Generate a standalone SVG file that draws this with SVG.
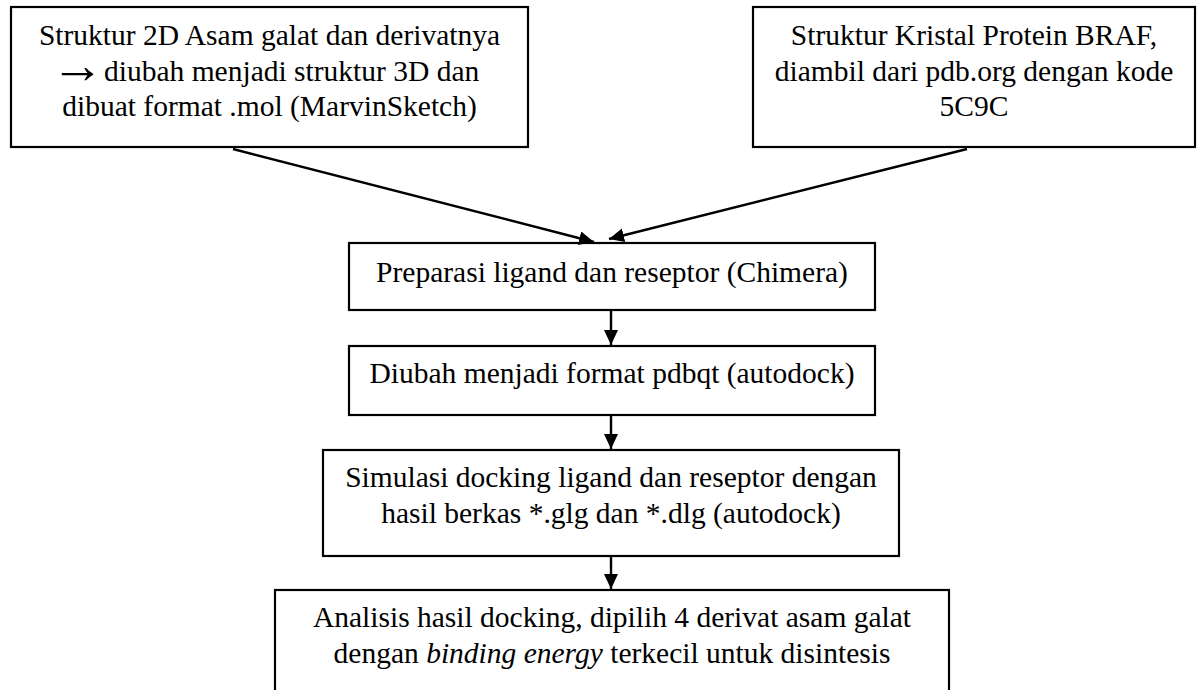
<svg xmlns="http://www.w3.org/2000/svg" width="1200" height="690" viewBox="0 0 1200 690">
<style>
.box{fill:#fff;stroke:#000;stroke-width:2.2}
.t{font-family:"Liberation Serif","Times New Roman",serif;font-size:29.5px;fill:#000;text-anchor:middle}
.c{stroke:#000;stroke-width:2.4;fill:none;marker-end:url(#ah)}
</style>
<defs>
<marker id="ah" markerUnits="userSpaceOnUse" markerWidth="18" markerHeight="16" refX="15" refY="7" orient="auto">
<path d="M0,0 L15,7 L0,14 Z" fill="#000"/>
</marker>
</defs>
<rect width="1200" height="690" fill="#fff"/>
<g id="n1">
<rect class="box" x="11" y="7" width="517" height="140"/>
<text class="t" x="269.5" y="45">Struktur 2D Asam galat dan derivatnya</text>
<text x="51" y="83" style="font-family:'Liberation Serif',serif;font-size:53px;fill:#000">→</text>
<text class="t" x="104" y="80.5" style="text-anchor:start">diubah menjadi struktur 3D dan</text>
<text class="t" x="269.5" y="116">dibuat format .mol (MarvinSketch)</text>
</g>
<g id="n2">
<rect class="box" x="753" y="7" width="442" height="140"/>
<text class="t" x="974" y="45">Struktur Kristal Protein BRAF,</text>
<text class="t" x="974" y="80.5">diambil dari pdb.org dengan kode</text>
<text class="t" x="974" y="116">5C9C</text>
</g>
<g id="n3">
<rect class="box" x="349" y="243" width="526" height="67"/>
<text class="t" x="612" y="282">Preparasi ligand dan reseptor (Chimera)</text>
</g>
<g id="n4">
<rect class="box" x="349" y="346" width="526" height="69"/>
<text class="t" x="612" y="383">Diubah menjadi format pdbqt (autodock)</text>
</g>
<g id="n5">
<rect class="box" x="323" y="450" width="576" height="106"/>
<text class="t" x="611" y="487">Simulasi docking ligand dan reseptor dengan</text>
<text class="t" x="611" y="523">hasil berkas *.glg dan *.dlg (autodock)</text>
</g>
<g id="n6">
<rect class="box" x="275" y="590" width="674" height="120"/>
<text class="t" x="612" y="627">Analisis hasil docking, dipilih 4 derivat asam galat</text>
<text class="t" x="612" y="663">dengan <tspan font-style="italic">binding energy</tspan> terkecil untuk disintesis</text>
</g>
<g id="connectors">
<line class="c" x1="233" y1="149" x2="594" y2="242"/>
<line class="c" x1="967" y1="149" x2="609" y2="239"/>
<line class="c" x1="611" y1="311" x2="611" y2="345"/>
<line class="c" x1="611" y1="416" x2="611" y2="449"/>
<line class="c" x1="611" y1="557" x2="611" y2="589"/>
</g>
</svg>
